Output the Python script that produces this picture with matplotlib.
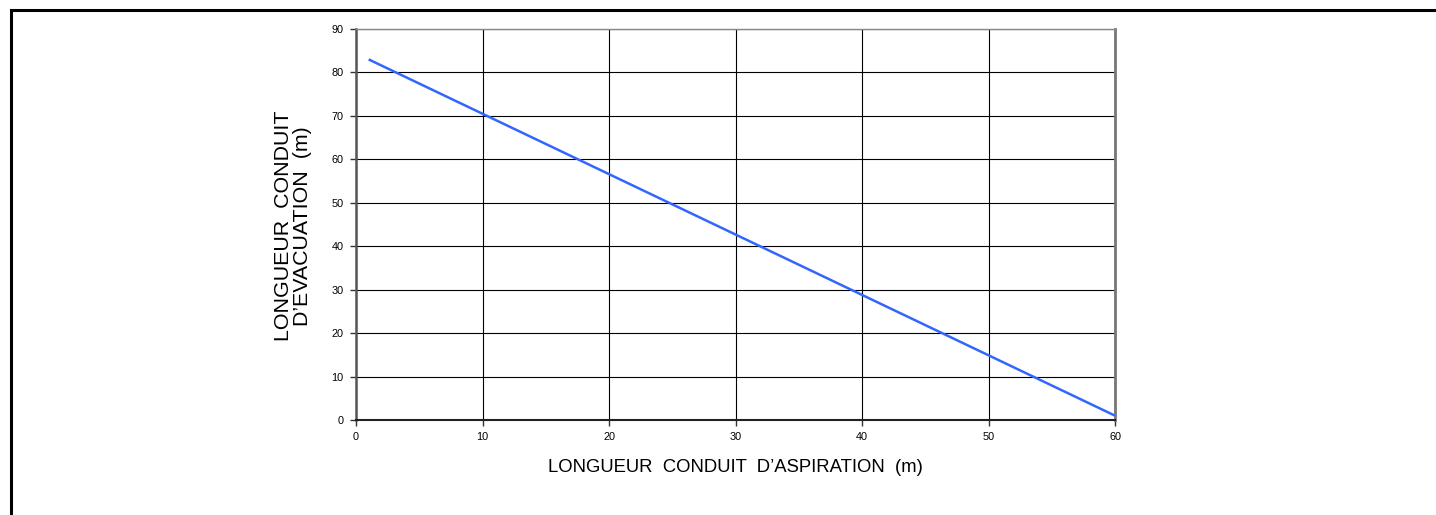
import matplotlib
matplotlib.use("Agg")
import matplotlib.pyplot as plt
from matplotlib.lines import Line2D

plt.rcParams['font.family'] = ['Liberation Sans', 'DejaVu Sans']

# Curve: allowable exhaust duct length vs. intake duct length
aspiration_m = [1, 60]
evacuation_m = [83, 1]

x_ticks = [0, 10, 20, 30, 40, 50, 60]
y_ticks = [0, 10, 20, 30, 40, 50, 60, 70, 80, 90]

W, H = 1436, 515
fig = plt.figure(figsize=(W / 100, H / 100), dpi=100)
fig.patch.set_facecolor('white')

ax = fig.add_axes([356 / W, 1 - 420 / H, (1115 - 356) / W, (420 - 29) / H])
ax.plot(aspiration_m, evacuation_m, color='#3366FF', linewidth=1.8,
        solid_capstyle='butt', zorder=3)

ax.set_xlim(0, 60)
ax.set_ylim(0, 90)
ax.set_xticks(x_ticks)
ax.set_yticks(y_ticks)
ax.grid(True, color='black', linewidth=0.8)
ax.set_axisbelow(True)

ax.tick_params(axis='both', labelsize=7.8, direction='out', length=4,
               width=1, color='#333333', pad=5)
ax.tick_params(axis='x', pad=5)

ax.spines['left'].set_color('#555555')
ax.spines['left'].set_linewidth(1.8)
ax.spines['bottom'].set_color('#222222')
ax.spines['bottom'].set_linewidth(1.5)
ax.spines['right'].set_color('#777777')
ax.spines['right'].set_linewidth(2)
ax.spines['top'].set_color('#888888')
ax.spines['top'].set_linewidth(1)

fig.text(735 / W, 1 - 467 / H, "LONGUEUR  CONDUIT  D\u2019ASPIRATION  (m)",
         ha='center', va='center', fontsize=13.3)
fig.text(293 / W, 1 - 226 / H, "LONGUEUR  CONDUIT\nD\u2019EVACUATION  (m)",
         ha='center', va='center', rotation=90, fontsize=15.4,
         linespacing=1.02, multialignment='center')

# Frame: top and left edges
fig.add_artist(Line2D([10.5 / W, 1], [1 - 9.5 / H, 1 - 9.5 / H],
                      transform=fig.transFigure, color='black', linewidth=2.2))
fig.add_artist(Line2D([10.5 / W, 10.5 / W], [0, 1 - 9.5 / H],
                      transform=fig.transFigure, color='black', linewidth=2.2))

fig.savefig('out.png', dpi=100, facecolor='white')
